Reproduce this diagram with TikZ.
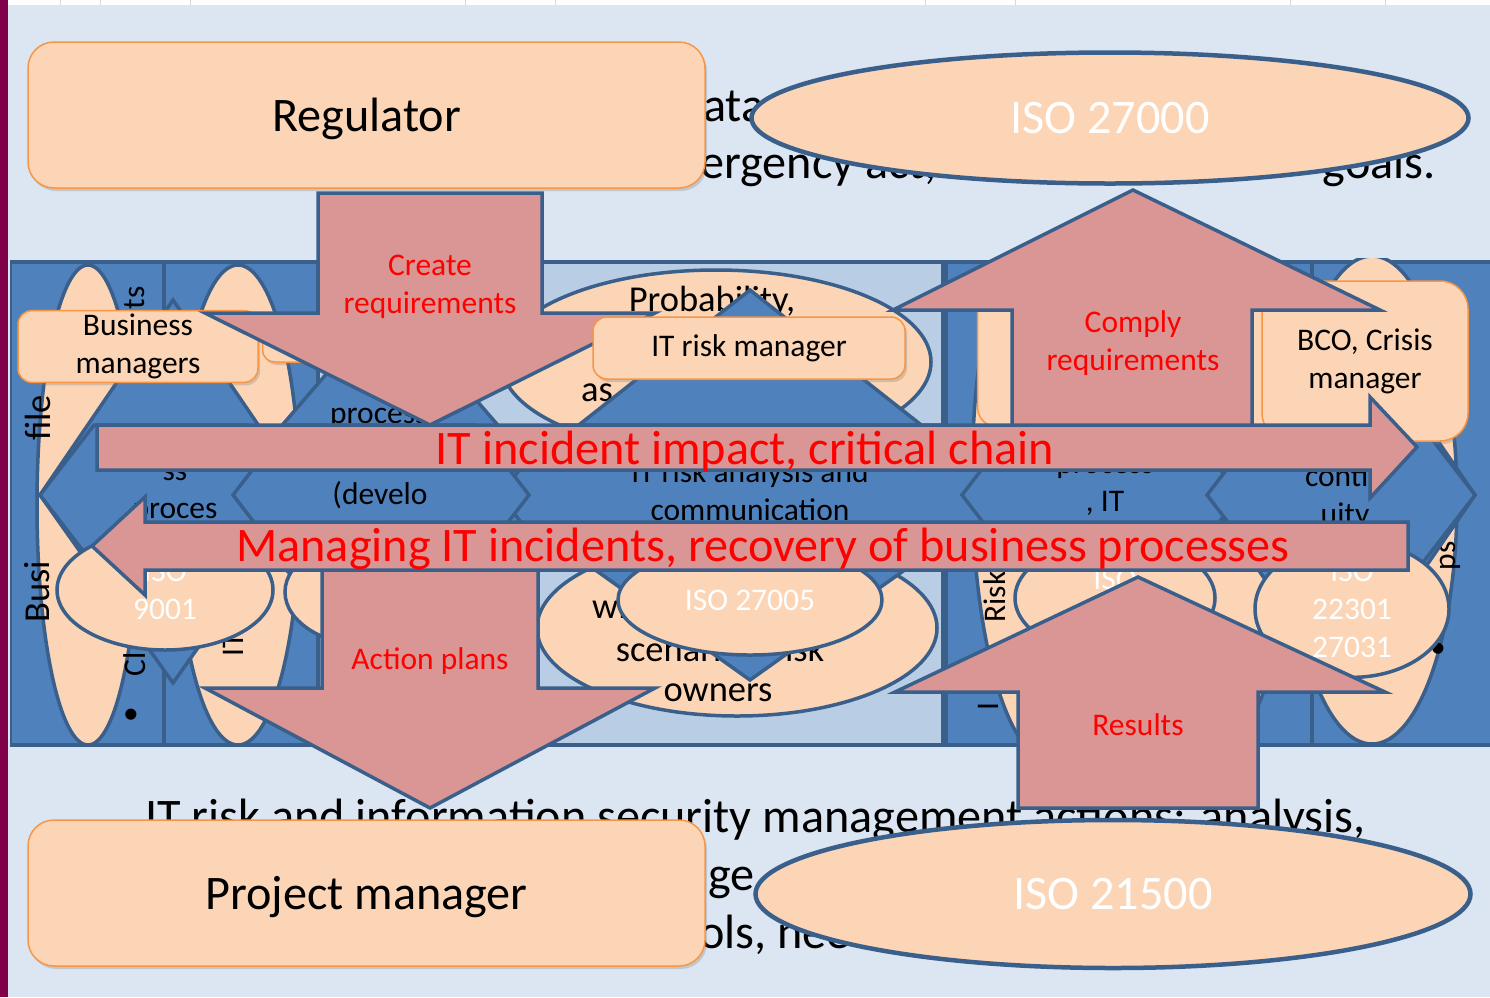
\documentclass[tikz,border=0pt]{standalone}
\usepackage{fontspec}
\setmainfont{Carlito}
\usetikzlibrary{shapes.geometric,shadows}

\definecolor{slidebg}{HTML}{DCE6F2}
\definecolor{bandblue}{HTML}{4F81BD}
\definecolor{edgeblue}{HTML}{3A5F8B}
\definecolor{paleblue}{HTML}{B9CDE5}
\definecolor{peach}{HTML}{FBD5B5}
\definecolor{peachedge}{HTML}{F79646}
\definecolor{arrowpink}{HTML}{D99694}
\definecolor{slidebar}{HTML}{80004A}

\newcommand{\bigtext}{\fontsize{48.2}{58}\selectfont}
\newcommand{\midtext}{\fontsize{31.5}{38}\selectfont}
\newcommand{\ovaltext}{\fontsize{36.5}{42}\selectfont}

\tikzset{
  column/.style={fill=bandblue,draw=edgeblue,line width=3.5pt,line join=miter},
  blob/.style={fill=peach,draw=edgeblue,line width=3.5pt},
  blockarrow/.style={fill=arrowpink,draw=edgeblue,line width=3.5pt,line join=miter},
  rolebox/.style={rectangle,fill=peach,draw=peachedge,line width=1.5pt,
    align=center,font=\midtext,
    drop shadow={shadow xshift=2pt,shadow yshift=-3pt,opacity=0.3}},
  bigbox/.style={rolebox,rounded corners=26pt,font=\bigtext,text height=33pt,
    text depth=0pt,minimum width=677pt,minimum height=146pt},
  isobubble/.style={ellipse,fill=peach,draw=edgeblue,line width=3.5pt,
    text=white,align=center,font=\midtext,inner sep=0pt},
  redlabel/.style={text=red,align=center,font=\midtext},
  bandlabel/.style={align=center,font=\midtext,inner sep=0pt},
  slidetext/.style={font=\bigtext,inner sep=0pt}
}

\begin{document}
\begin{tikzpicture}[x=1pt,y=-1pt]
\useasboundingbox (0,0) rectangle (1490,997);

% Slide
\fill[slidebg] (0,0) rectangle (1490,997);
\fill[white] (8,0) rectangle (1490,5);
\foreach \x in {60,100,190,465,555,925,1015,1290,1385}
  \draw[gray!30,thin] (\x,0) -- (\x,5);
\fill[slidebar] (0,0) rectangle (8,997);

% Slide text under the diagram
\node[slidetext,anchor=base west] (txtdata) at (703,121) {ata};
\node[slidetext,anchor=base west] (txtact) at (700,178) {ergency act,};
\node[slidetext,anchor=base east] (txtgoals) at (1436,178) {goals.};
\node[slidetext,anchor=base west] (txtrisk) at (145,832) {IT risk and information security management actions: analysis,};
\node[slidetext,anchor=base west] (txtge) at (708,890) {ge};
\node[slidetext,anchor=base west] (txtnee) at (699,948) {ols, nee};

% Band of five columns
\begin{scope}
\clip (10,258) rectangle (1490,747);
\draw[column] (10,262) rectangle (164,745);
\draw[column] (164,262) rectangle (318,745);
\draw[column,fill=paleblue] (318,262) rectangle (943,745);
\draw[column] (946,262) rectangle (1312,745);
\draw[column] (1312,262) rectangle (1494,745);

% Tall bubbles
\draw[blob] (88,505) ellipse [x radius=51pt,y radius=240pt];
\draw[blob] (238,505) ellipse [x radius=62pt,y radius=240pt];
\draw[blob] (1050,480) ellipse [x radius=78pt,y radius=280pt];
\draw[blob] (1220,500) ellipse [x radius=70pt,y radius=245pt];
\draw[blob] (1372,500) ellipse [x radius=85pt,y radius=244pt];
\draw[blob] (716,362) ellipse [x radius=215pt,y radius=92pt];
\draw[blob] (737,628) ellipse [x radius=200pt,y radius=88pt];

% Column texts
\node[bandlabel,rotate=90,font=\ovaltext] (bizfile) at (38,418) {file};
\node[bandlabel,rotate=90,font=\ovaltext] (bizbusi) at (37,592) {Busi};
\node[bandlabel,rotate=90] (colts) at (135,298) {ts};
\node[bandlabel,rotate=90] (colcl) at (135,664) {Cl};
\node[bandlabel] (colbullet) at (131,716) {\textbullet};
\node[bandlabel,rotate=90] (colit) at (233,645) {IT};
\node[bandlabel,rotate=90] (colrisk) at (995,597) {Risk};
\node[bandlabel,rotate=90] (coli) at (988,707) {I};
\node[bandlabel,rotate=90] (colps) at (1450,556) {ps};
\node[bandlabel] (colbullet2) at (1438,650) {\textbullet};
\node[bandlabel,font=\ovaltext] (probab) at (712,302) {Probability,};
\node[bandlabel,font=\ovaltext] (assets) at (597,393) {as};
\node[bandlabel,font=\ovaltext,anchor=west] (with) at (592,606) {with};
\node[bandlabel,font=\ovaltext] (scenario) at (720,651) {scenarios, risk};
\node[bandlabel,font=\ovaltext] (owners) at (718,693) {owners};

% Diamonds
\draw[column] (173,300) -- (306,495) -- (173,683) -- (40,495) -- cycle;
\draw[column] (390,300) -- (558,495) -- (390,690) -- (222,495) -- cycle;
\draw[column] (750,290) -- (1010,495) -- (750,680) -- (490,495) -- cycle;
\draw[column] (1341,300) -- (1475,495) -- (1341,690) -- (1207,495) -- cycle;
\node[bandlabel,anchor=west] (procmid) at (330,418) {process};

% Chevrons
\foreach \xl/\xr in {40/300,500/1000,233/529,962/1240,1207/1475}
  \draw[column] (\xl,495) -- (\xl+54,425) -- (\xr-54,425) -- (\xr,495)
    -- (\xr-54,565) -- (\xl+54,565) -- cycle;
\node[bandlabel] (procleft) at (175,494) {ss\\proces};
\node[bandlabel] (develo) at (380,495) {(develo};
\node[bandlabel] (riskcomm) at (750,491) {IT risk analysis and\\communication};
\node[bandlabel] (procit) at (1105,487) {process\\, IT};
\node[bandlabel] (contin) at (1345,497) {contin\\uity};

% Standards inside the band
\node[isobubble,minimum width=216pt,minimum height=120pt] (iso9001) at (165,590) {ISO\\9001};
\node[isobubble,minimum width=180pt,minimum height=110pt] (isohidden) at (375,592) {};
\node[isobubble,minimum width=264pt,minimum height=110pt] (iso27005) at (750,600) {ISO 27005};
\node[isobubble,minimum width=200pt,minimum height=116pt] (isocol4) at (1115,598) {ISO\\2\phantom{0000}};
\node[isobubble,minimum width=194pt,minimum height=120pt] (iso22301) at (1352,609) {ISO\\22301\\27031};
\end{scope}

% Roles in the band
\node[rolebox,rounded corners=12pt,minimum width=137pt,minimum height=42pt] (hiddenbox) at (331,341) {};
\node[rolebox,rounded corners=20pt,minimum width=297pt,minimum height=140pt] (riskbox) at (1126,357) {};
\node[rolebox,rounded corners=14pt,minimum width=240pt,minimum height=63pt] (bizmgr) at (138,346.5) {Business\\managers};
\node[rolebox,rounded corners=28pt,minimum width=206pt,minimum height=160pt] (bcomgr) at (1365,361) {BCO, Crisis\\manager};

% Vertical block arrows
\draw[blockarrow] (318,193) -- (542,193) -- (542,313) -- (655,313) -- (430,425)
  -- (205,313) -- (318,313) -- cycle;
\node[redlabel] (createreq) at (430,287) {Create\\requirements};
\draw[blockarrow] (322,560) -- (538,560) -- (538,688) -- (655,688) -- (430,808)
  -- (205,688) -- (322,688) -- cycle;
\node[redlabel] (actplans) at (430,661) {Action plans};
\draw[blockarrow] (1012,430) -- (1012,310) -- (893,310) -- (1133,190) -- (1380,310)
  -- (1252,310) -- (1252,430) -- cycle;
\node[redlabel] (complyreq) at (1133,343) {Comply\\requirements};
\draw[blockarrow] (1018,808) -- (1018,692) -- (895,692) -- (1138,577) -- (1385,692)
  -- (1258,692) -- (1258,808) -- cycle;
\node[redlabel] (results) at (1138,725) {Results};

\node[rolebox,rounded corners=14pt,minimum width=312pt,minimum height=62pt] (itriskmgr) at (749,348) {IT risk manager};

% Horizontal block arrows
\draw[blockarrow] (97,425) -- (1370,425) -- (1370,397) -- (1417,447) -- (1370,498)
  -- (1370,470) -- (97,470) -- cycle;
\node[text=red,font=\bigtext,anchor=base,inner sep=0pt] (impact) at (745,464) {IT incident impact, critical chain};
\draw[blockarrow] (1408,522) -- (145,522) -- (145,497) -- (92,546) -- (145,595)
  -- (145,570) -- (1408,570) -- cycle;
\node[text=red,font=\bigtext,anchor=base,inner sep=0pt] (managing) at (763,561) {Managing IT incidents, recovery of business processes};

% Regulator, project manager and standards
\node[bigbox] (regulator) at (366.5,115) {Regulator};
\node[bigbox] (projmgr) at (366.5,893) {Project manager};
\node[isobubble,line width=4.5pt,font=\bigtext,minimum width=717pt,minimum height=131pt] (iso27000) at (1110,118) {ISO 27000};
\node[isobubble,line width=4.5pt,font=\bigtext,minimum width=715pt,minimum height=148pt] (iso21500) at (1113,894) {ISO 21500};
\end{tikzpicture}
\end{document}
